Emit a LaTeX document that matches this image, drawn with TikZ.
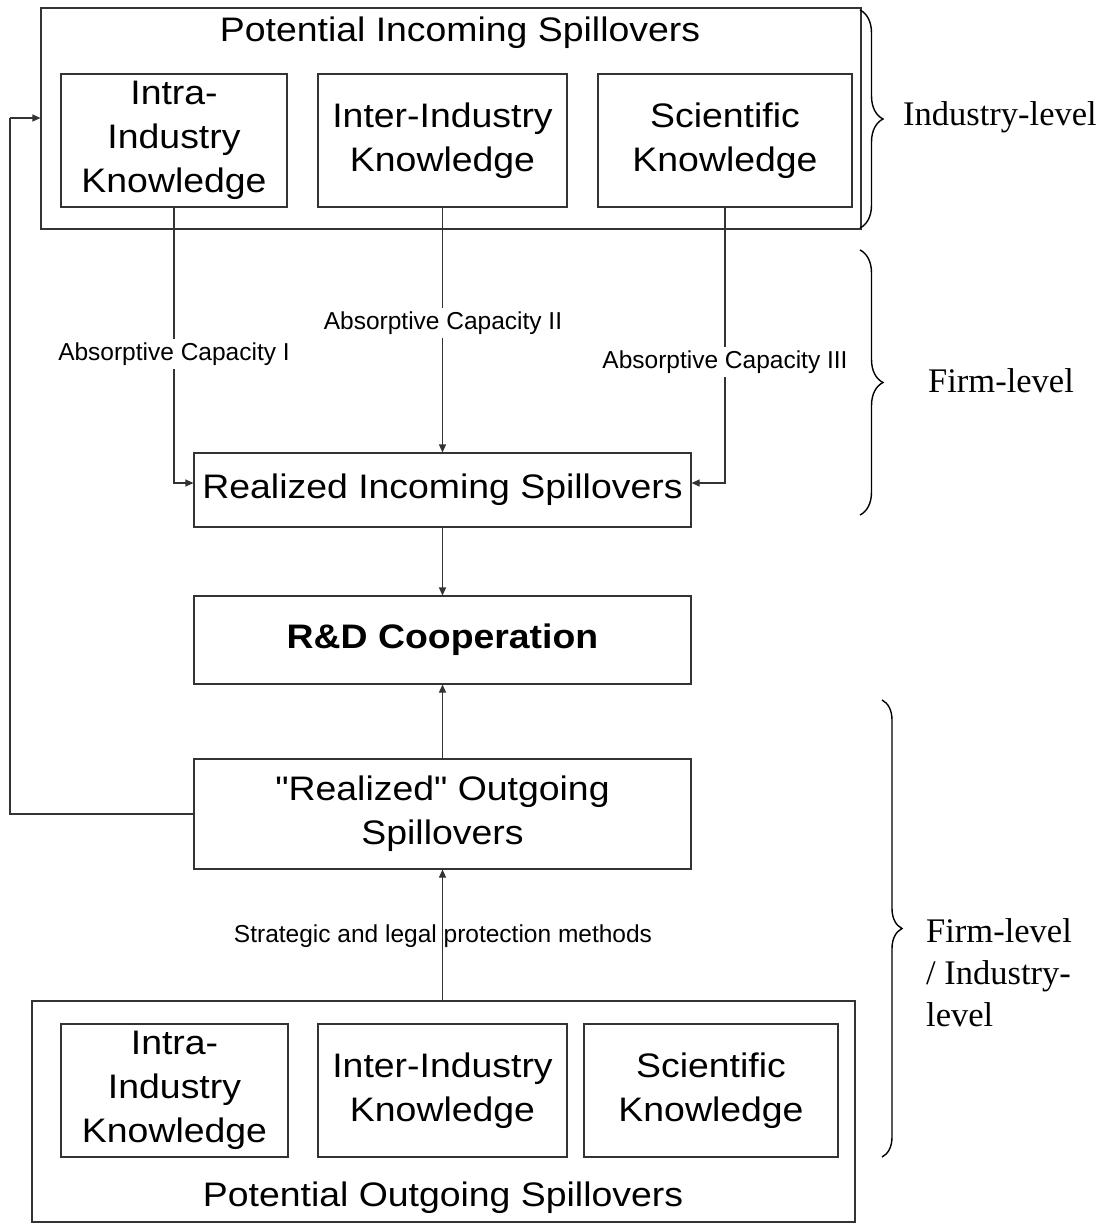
\documentclass[tikz,border=0pt]{standalone}
\usepackage{fontspec}
\setmainfont{Liberation Serif}
\setsansfont{Liberation Sans}
\newfontfamily\widesans[FakeStretch=1.1]{Liberation Sans}
\usetikzlibrary{arrows.meta,decorations.pathreplacing}

\newcommand\boxfont{\widesans\fontsize{34}{44}\selectfont}
\newcommand\labelfont{\sffamily\fontsize{24.5}{29}\selectfont}
\newcommand\sidefont{\rmfamily\fontsize{34.5}{42}\selectfont}

\tikzset{
  frame/.style={draw=black!80, line width=1.1pt, inner sep=0pt},
  kbox/.style={frame, align=center, font=\boxfont},
  title/.style={inner sep=0pt, font=\boxfont},
  flow/.style={draw=black!80, line width=1.1pt, -{Triangle[length=8pt,width=7pt]}},
  plain/.style={draw=black!80, line width=1.1pt},
  caplabel/.style={font=\labelfont, inner xsep=0pt, inner ysep=4pt},
  sidetext/.style={font=\sidefont, inner sep=0pt, anchor=west, align=left},
  levelbrace/.style={draw=black, line width=1.4pt, decorate,
    decoration={brace, amplitude=#1}},
}

\begin{document}
\begin{tikzpicture}[x=1pt,y=-1pt]
\useasboundingbox (0,0) rectangle (1112,1225);

% incoming spillovers (industry level)
\node[frame, minimum width=820pt, minimum height=221pt] (pin) at (451,118.5) {};
\node[title] (pintitle) at (460,33) {Potential Incoming Spillovers};
\node[kbox, minimum width=226pt, minimum height=133pt] (ia) at (174,140.5) {Intra-\\Industry\\Knowledge};
\node[kbox, minimum width=249pt, minimum height=133pt] (ie) at (442.5,140.5) {Inter-Industry\\Knowledge};
\node[kbox, minimum width=254pt, minimum height=133pt] (is) at (725,140.5) {Scientific\\Knowledge};

% central chain
\node[kbox, minimum width=497pt, minimum height=74pt] (rin) at (442.5,490) {Realized Incoming Spillovers};
\node[kbox, minimum width=497pt, minimum height=88pt] (rd) at (442.5,640) {\bfseries R\&D Cooperation};
\node[kbox, minimum width=497pt, minimum height=110pt] (rout) at (442.5,814) {"Realized" Outgoing\\Spillovers};

% outgoing spillovers
\node[frame, minimum width=823pt, minimum height=221pt] (pout) at (443.5,1111.5) {};
\node[kbox, minimum width=227pt, minimum height=133pt] (oa) at (174.5,1090.5) {Intra-\\Industry\\Knowledge};
\node[kbox, minimum width=249pt, minimum height=133pt] (oe) at (442.5,1090.5) {Inter-Industry\\Knowledge};
\node[kbox, minimum width=254pt, minimum height=133pt] (os) at (711,1090.5) {Scientific\\Knowledge};
\node[title] (pouttitle) at (443,1198) {Potential Outgoing Spillovers};

% connectors
\draw[flow] (ia.south) |- ([yshift=7pt]rin.west);
\draw[flow] (ie.south) -- (rin.north);
\draw[flow] (is.south) |- ([yshift=7pt]rin.east);
\draw[flow] (rin.south) -- (rd.north);
\draw[flow] (rout.north) -- (rd.south);
\draw[flow] (rout.south |- pout.north) -- (rout.south);
\coordinate (fb) at (10,118);
\draw[plain] (rout.west) -| (fb);
\draw[flow] (fb) -- (fb -| pin.west);

% connector labels
\node[caplabel, fill=white] (ac1) at (174,354) {Absorptive Capacity I};
\node[caplabel, fill=white] (ac2) at (443,323) {Absorptive Capacity II};
\node[caplabel, fill=white] (ac3) at (725,362) {Absorptive Capacity III};
\node[caplabel] (prot) at (443,936) {Strategic and legal protection methods};

% level braces
\draw[levelbrace=23pt] (860,10) -- (860,228);
\draw[levelbrace=23pt] (860,250) -- (860,515);
\draw[levelbrace=20pt] (882,700) -- (882,1157);

\node[sidetext] (lvl1) at (903,117) {Industry-level};
\node[sidetext] (lvl2) at (928,381) {Firm-level};
\node[sidetext] (lvl3) at (926,973) {Firm-level\\/ Industry-\\level};
\end{tikzpicture}
\end{document}
